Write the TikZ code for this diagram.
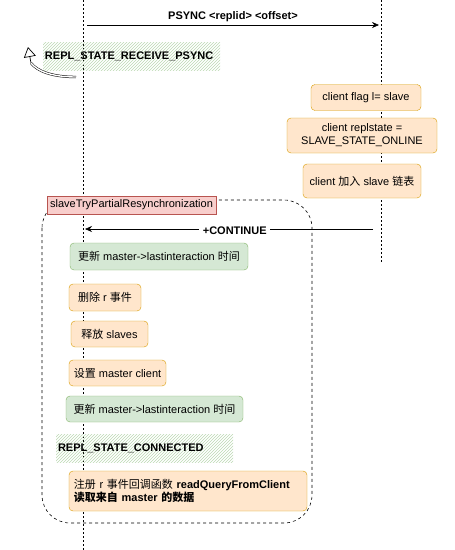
\documentclass[tikz,border=0pt]{standalone}
\usepackage{fontspec}
\setmainfont{Liberation Sans}
\newfontfamily\cjk{Noto Sans CJK SC}
\usetikzlibrary{arrows.meta, patterns, positioning}
\definecolor{orangefill}{HTML}{FFE6CC}
\definecolor{orangeline}{HTML}{D79B00}
\definecolor{greenfill}{HTML}{D5E8D4}
\definecolor{greenline}{HTML}{82B366}
\definecolor{redfill}{HTML}{F8CECC}
\definecolor{redline}{HTML}{B85450}
\definecolor{hatchgreen}{HTML}{BCD8B2}

\begin{document}
\begin{tikzpicture}[x=1pt, y=-1pt, font=\fontsize{11}{13}\selectfont,
    actbox/.style={draw=orangeline, fill=orangefill, rounded corners=4pt, inner sep=0pt, minimum height=26pt, align=center},
    greenbox/.style={actbox, draw=greenline, fill=greenfill},
    lifeline/.style={dash pattern=on 2pt off 2pt, line width=0.6pt},
    msg/.style={-{Stealth[length=7pt, width=6pt]}, line width=0.6pt},
    hatch/.style={pattern=north east lines, pattern color=hatchgreen, inner sep=2pt, minimum height=28pt, align=left, font=\fontsize{11}{13}\selectfont\bfseries}]
    \useasboundingbox (0,0) rectangle (455,550);

    % lifelines
    \coordinate (mtop) at (83,0);
    \coordinate (mbot) at (83,550);
    \coordinate (stop) at (381,0);
    \coordinate (sbot) at (381,262);
    \draw[lifeline] (mtop) -- (mbot);
    \draw[lifeline] (stop) -- (sbot);

    % PSYNC
    \coordinate (psyncA) at (87,25);
    \coordinate (psyncB) at (379,25);
    \draw[msg] (psyncA) -- node[above, font=\fontsize{11}{13}\selectfont\bfseries]{PSYNC <replid> <offset>} (psyncB);

    \node[hatch, text width=173pt] (receive) at (131.5,56) {REPL\_STATE\_RECEIVE\_PSYNC};
    \coordinate (curveA) at (76,77);
    \coordinate (curveB) at (31,63);
    \coordinate (curveTip) at (28,47);
    \draw[line width=0.5pt, double, double distance=1.4pt] (curveA) .. controls (52,77) and (37,71) .. (curveB);
    \draw[line width=0.7pt, -{Triangle[open, width=12pt, length=10pt, line width=0.7pt]}] (curveB) -- (curveTip);

    % slave side
    \node[actbox, minimum width=110pt] (flag) at (366,97.5) {client flag l= slave};
    \node[actbox, minimum width=150pt, minimum height=35pt] (replstate) at (362,135.5) {client replstate =\\SLAVE\_STATE\_ONLINE};
    \node[actbox, minimum width=118pt, minimum height=34pt] (addlist) at (362,181) {client {\cjk 加入} slave {\cjk 链表}};

    % partial resync
    \draw[dash pattern=on 3pt off 3pt, line width=0.6pt, rounded corners=28pt] (42,200) rectangle (312,523);
    \node[draw=redline, fill=redfill, inner sep=0pt, minimum width=169pt, minimum height=18pt] (trypsync) at (131.5,205) {slaveTryPartialResynchronization};

    \coordinate (contA) at (373,229);
    \coordinate (contB) at (85,229);
    \draw[msg] (contA) -- node[pos=0.48, fill=white, yshift=-2pt, font=\fontsize{11}{13}\selectfont\bfseries]{+CONTINUE} (contB);

    \node[greenbox, minimum width=178pt, minimum height=27pt] (update1) at (159,256.5) {{\cjk 更新} master->lastinteraction {\cjk 时间}};
    \node[actbox, minimum width=72pt, minimum height=27pt] (delr) at (105,297.5) {{\cjk 删除} r {\cjk 事件}};
    \node[actbox, minimum width=77pt] (freeslaves) at (109.5,334) {{\cjk 释放} slaves};
    \node[actbox, minimum width=97pt] (setmaster) at (117.5,373) {{\cjk 设置} master client};
    \node[greenbox, minimum width=177pt] (update2) at (154.5,409) {{\cjk 更新} master->lastinteraction {\cjk 时间}};

    \node[hatch, text width=173pt] (connected) at (144.5,448) {REPL\_STATE\_CONNECTED};

    \node[actbox, minimum height=40pt, text width=228pt, inner sep=5pt, align=left] (readquery) at (188,491) {{\cjk 注册} r {\cjk 事件回调函数} \textbf{readQueryFromClient}\\\textbf{{\cjk 读取来自} master {\cjk 的数据}}};
\end{tikzpicture}
\end{document}
